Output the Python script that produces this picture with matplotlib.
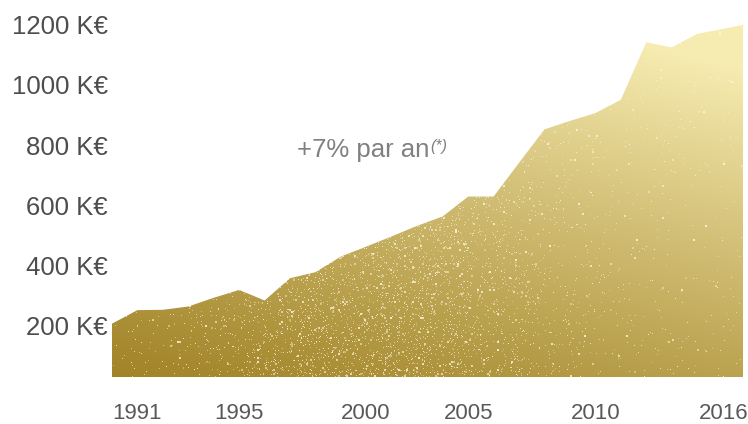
import numpy as np
import matplotlib
matplotlib.use("Agg")
import matplotlib.pyplot as plt

plt.rcParams["font.family"] = ["Liberation Sans", "DejaVu Sans"]

# ---------------------------------------------
# DATA (K€ per year)
# ---------------------------------------------
years = list(range(1991, 2017))
values = [207, 252, 253, 264, 293, 319, 284, 358, 378, 430,
          463, 497, 532, 563, 629, 629, 741, 852, 880, 906,
          950, 1141, 1124, 1169, 1185, 1202]

y_ticks = [200, 400, 600, 800, 1000, 1200]
y_tick_labels = [f"{v} K€" for v in y_ticks]
x_ticks = [1991, 1995, 2000, 2005, 2010, 2016]
x_tick_labels = [str(y) for y in x_ticks]

BASE = 30
DARK = np.array([162, 132, 40]) / 255.0
LIGHT = np.array([246, 235, 176]) / 255.0
SPARK = np.array([253, 248, 222]) / 255.0


def glitter(nx, ny, rng, cell, peak, floor):
    # specks of size cell x cell, denser in the middle of the area
    hx, hy = -(-nx // cell), -(-ny // cell)
    hu = np.linspace(0, 1, hx)[None, :]
    hv = np.linspace(0, 1, hy)[:, None]
    dens = peak * np.exp(-((hu - 0.42) / 0.25) ** 2) * (1 - 0.45 * hv) + floor
    mask = rng.random((hy, hx)) < dens
    s = np.where(mask, rng.uniform(0.35, 0.85, (hy, hx)), 0.0)
    return np.kron(s, np.ones((cell, cell)))[:ny, :nx]


def gold_texture(nx, ny, seed=3):
    # diagonal gold gradient with a glitter texture
    u = np.linspace(0, 1, nx)[None, :]
    v = np.linspace(0, 1, ny)[:, None]
    t = np.clip(0.33 * u + 0.78 * v, 0, 1) ** 1.1
    img = DARK + (LIGHT - DARK) * t[..., None]

    rng = np.random.default_rng(seed)
    s = np.maximum(glitter(nx, ny, rng, 1, 0.07, 0.004),
                   glitter(nx, ny, rng, 2, 0.03, 0.003))
    img = img + (SPARK - img) * s[..., None]
    return np.clip(img, 0, 1)


fig = plt.figure(figsize=(7.48, 4.24), dpi=100)
ax = fig.add_axes([112 / 748, 47 / 424, 636 / 748, 357 / 424])

xmin, xmax = 1991, 2015.8
ymin, ymax = BASE, 1215

poly = ax.fill_between(years, values, BASE, facecolor="none", edgecolor="none")
tex = gold_texture(636, 357)
im = ax.imshow(tex, extent=[xmin, xmax, ymin, ymax], origin="lower",
               aspect="auto", interpolation="none", zorder=1)
im.set_clip_path(poly.get_paths()[0], transform=ax.transData)

ax.set_xlim(xmin, xmax)
ax.set_ylim(ymin, ymax)

for s in ax.spines.values():
    s.set_visible(False)

ax.set_yticks(y_ticks)
ax.set_yticklabels(y_tick_labels, fontsize=18.5, color="#4d4d4d")
ax.tick_params(axis="y", length=0, pad=3)

ax.set_xticks(x_ticks)
ax.set_xticklabels(x_tick_labels, fontsize=16, color="#595959")
ax.tick_params(axis="x", length=0, pad=19)
for lab, ha in zip(ax.get_xticklabels(),
                   ["left", "left", "left", "center", "center", "right"]):
    lab.set_ha(ha)

# growth note
note = ax.text(1998.27, 784, "+7% par an", fontsize=18.5, color="#808080",
               ha="left", va="center")
ax.annotate("(*)", xy=(1, 1), xycoords=note, xytext=(0.5, -1),
            textcoords="offset points", ha="left", va="top",
            fontsize=11.5, style="italic", color="#808080")

fig.savefig("out.png", dpi=100)
